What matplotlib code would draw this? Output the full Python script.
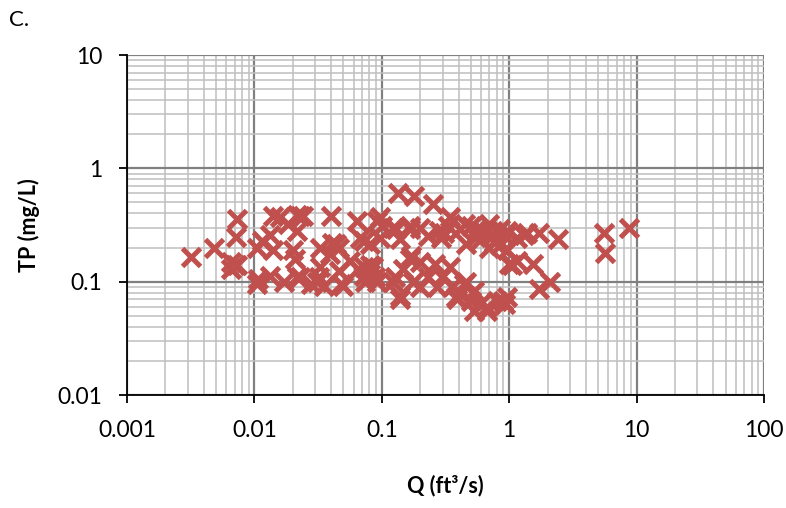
import matplotlib.pyplot as plt
from matplotlib.ticker import LogLocator, NullFormatter, FixedLocator, FixedFormatter

# Flow (ft3/s) and total phosphorus (mg/L)
q = [0.0032, 0.0048, 0.0073, 0.0072, 0.0066, 0.0073, 0.0065, 0.0070, 0.0104, 0.0114,
     0.0133, 0.0107, 0.0105, 0.0133, 0.014, 0.016, 0.0185, 0.0215, 0.023, 0.0215,
     0.020, 0.014, 0.017, 0.0215, 0.021, 0.023, 0.024, 0.032, 0.033, 0.040,
     0.041, 0.044, 0.039, 0.033, 0.031, 0.035, 0.028, 0.048, 0.046, 0.046,
     0.050, 0.056, 0.064, 0.065, 0.068, 0.072, 0.072, 0.072, 0.074, 0.081,
     0.081, 0.081, 0.089, 0.091, 0.086, 0.091, 0.097, 0.097, 0.10,
     0.123, 0.13, 0.135, 0.14, 0.18, 0.166, 0.165, 0.20, 0.25, 0.23,
     0.28, 0.29, 0.33, 0.34, 0.31, 0.41, 0.45, 0.46, 0.50, 0.56,
     0.56, 0.60, 0.70, 0.76, 0.85, 0.93, 0.96, 0.96, 1.05, 1.15,
     1.15, 1.3, 1.37, 1.7, 2.4, 1.0, 1.55, 2.1, 1.7, 0.93,
     0.17, 0.20, 0.165, 0.26, 0.148, 0.123, 0.127, 0.177, 0.232, 0.295,
     0.14, 0.14, 0.20, 0.27, 0.36, 0.41, 0.50, 0.46, 0.34, 0.44,
     0.53, 0.38, 0.39, 0.59, 0.53, 0.67, 0.80, 0.90, 0.96, 0.67,
     0.65, 0.75, 0.80, 0.70, 0.55, 0.85,
     5.5, 5.7, 8.7]
tp = [0.165, 0.20, 0.36, 0.25, 0.15, 0.14, 0.13, 0.14, 0.20, 0.23,
      0.26, 0.105, 0.095, 0.113, 0.38, 0.37, 0.32, 0.39, 0.38, 0.28,
      0.19, 0.19, 0.10, 0.11, 0.16, 0.109, 0.38, 0.11, 0.20, 0.38,
      0.22, 0.215, 0.175, 0.134, 0.10, 0.092, 0.095, 0.095, 0.125, 0.20,
      0.092, 0.153, 0.34, 0.13, 0.245, 0.23, 0.134, 0.113, 0.10, 0.215,
      0.14, 0.117, 0.109, 0.10, 0.134, 0.345, 0.37, 0.245, 0.31,
      0.30, 0.29, 0.60, 0.24, 0.57, 0.29, 0.31, 0.30, 0.48, 0.255,
      0.28, 0.245, 0.31, 0.37, 0.27, 0.29, 0.32, 0.215, 0.31, 0.28,
      0.29, 0.24, 0.32, 0.225, 0.29, 0.255, 0.28, 0.19, 0.14, 0.245,
      0.153, 0.26, 0.27, 0.27, 0.24, 0.143, 0.143, 0.10, 0.086, 0.064,
      0.17, 0.15, 0.16, 0.143, 0.13, 0.10, 0.109, 0.10, 0.109, 0.109,
      0.075, 0.07, 0.09, 0.09, 0.092, 0.078, 0.068, 0.10, 0.134, 0.095,
      0.083, 0.073, 0.07, 0.064, 0.055, 0.06, 0.068, 0.068, 0.073, 0.055,
      0.27, 0.26, 0.24, 0.20, 0.25, 0.21,
      0.27, 0.18, 0.30]

x_ticks = [0.001, 0.01, 0.1, 1, 10, 100]
x_labels = ["0.001", "0.01", "0.1", "1", "10", "100"]
y_ticks = [0.01, 0.1, 1, 10]
y_labels = ["0.01", "0.1", "1", "10"]

plt.rcParams['font.family'] = ['Lato', 'DejaVu Sans']

fig = plt.figure(figsize=(7.86, 5.08), dpi=100)
ax = fig.add_axes([0.1616, 0.2224, 0.8104, 0.6693])

ax.plot(q, tp, linestyle="none", marker="x", color="#C0504D",
        markersize=13, markeredgewidth=3.6, zorder=3)

ax.set_xscale("log")
ax.set_yscale("log")
ax.set_xlim(0.001, 100)
ax.set_ylim(0.01, 10)

ax.xaxis.set_major_locator(FixedLocator(x_ticks))
ax.xaxis.set_major_formatter(FixedFormatter(x_labels))
ax.yaxis.set_major_locator(FixedLocator(y_ticks))
ax.yaxis.set_major_formatter(FixedFormatter(y_labels))
ax.xaxis.set_minor_locator(LogLocator(base=10, subs=range(2, 10), numticks=20))
ax.yaxis.set_minor_locator(LogLocator(base=10, subs=range(2, 10), numticks=20))
ax.xaxis.set_minor_formatter(NullFormatter())
ax.yaxis.set_minor_formatter(NullFormatter())

ax.grid(True, which="major", color="#808080", linewidth=1.6, zorder=1)
ax.grid(True, which="minor", color="#BFBFBF", linewidth=1.1, zorder=1)
ax.set_axisbelow(True)

for s in ["top", "right"]:
    ax.spines[s].set_visible(False)
for s in ["left", "bottom"]:
    ax.spines[s].set_color("black")
    ax.spines[s].set_linewidth(1.3)

ax.tick_params(which="major", direction="out", length=6, width=1.3,
               labelsize=16.5, pad=12)
ax.tick_params(which="minor", length=0)

ax.set_xlabel("Q (ft³/s)", fontsize=15.5, fontweight="bold", labelpad=24)
ax.set_ylabel("TP (mg/L)", fontsize=15.5, fontweight="bold", labelpad=12)

fig.text(0.012, 0.948, "C.", fontsize=16)

fig.savefig("out.png", dpi=100)
